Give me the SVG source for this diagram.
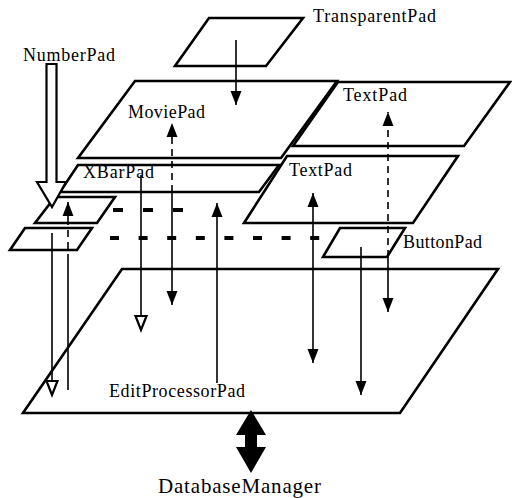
<svg xmlns="http://www.w3.org/2000/svg" width="512" height="498" viewBox="0 0 512 498">
  <style>
    .pad { fill: none; stroke: #000; stroke-width: 2.6; stroke-linejoin: miter; }
    .link { fill: none; stroke: #000; stroke-width: 1.6; }
    .dash { stroke-dasharray: 7 5; }
    .bus { fill: none; stroke: #000; stroke-width: 4; }
    .lbl { font-family: "Liberation Serif", "Times New Roman", serif; font-size: 18px; fill: #000; }
  </style>
  <defs>
    <marker id="head" markerUnits="userSpaceOnUse" markerWidth="16" markerHeight="12" refX="14" refY="5.5" orient="auto" overflow="visible">
      <path d="M0,0 L14,5.5 L0,11 z" fill="#000"/>
    </marker>
    <marker id="open" markerUnits="userSpaceOnUse" markerWidth="18" markerHeight="14" refX="15" refY="6" orient="auto" overflow="visible">
      <path d="M1,0.5 L15,6 L1,11.5 z" fill="#fff" stroke="#000" stroke-width="2.2"/>
    </marker>
  </defs>

  <!-- pads -->
  <g id="edit-processor-pad">
    <polygon class="pad" points="122,269 498,269 400,413 23,413"/>
    <text class="lbl" x="109" y="397" textLength="136">EditProcessorPad</text>
  </g>
  <g id="transparent-pad">
    <polygon class="pad" points="209,18 303,18 266,66 175,66"/>
    <text class="lbl" x="313" y="22" textLength="123">TransparentPad</text>
  </g>
  <g id="movie-pad">
    <polygon class="pad" points="135,81 337,81 281,158 78,158"/>
    <text class="lbl" x="128" y="118" textLength="77">MoviePad</text>
  </g>
  <g id="text-pad-top">
    <polygon class="pad" points="338,82 510,82 464,146 293,146"/>
    <text class="lbl" x="343" y="101" textLength="64">TextPad</text>
  </g>
  <g id="text-pad-mid">
    <polygon class="pad" points="287,156 458,156 413,223 244,223"/>
    <text class="lbl" x="289" y="176" textLength="63">TextPad</text>
  </g>
  <g id="xbar-pad">
    <polygon class="pad" points="78,165 279,165 259,192 60,192"/>
    <text class="lbl" x="83" y="178" textLength="71">XBarPad</text>
  </g>
  <g id="number-target-pad">
    <polygon class="pad" points="55,197 115,197 97,223 35,223"/>
  </g>
  <g id="lower-small-pad">
    <polygon class="pad" points="25,228 92,228 77,250 10,250"/>
  </g>
  <g id="button-pad">
    <polygon class="pad" points="340,228 405,228 387,257 323,257"/>
    <text class="lbl" x="403" y="248" textLength="79">ButtonPad</text>
  </g>
  <g id="number-pad">
    <polygon points="46.5,64 56.5,64 56.5,182 66,182 52,207 37,182 46.5,182" fill="#fff" stroke="#000" stroke-width="2.2"/>
    <text class="lbl" x="23" y="61" textLength="92">NumberPad</text>
  </g>
  <g id="database-manager">
    <polygon points="251,410 266,435 257,435 257,447 266,447 251,473 236,447 245,447 245,435 236,435" fill="#000"/>
    <text class="lbl" x="158" y="493" font-size="21" style="font-size:21px" textLength="163">DatabaseManager</text>
  </g>

  <!-- connectors -->
  <g id="connectors">
    <!-- broken bus lines -->
    <line class="bus" x1="113" y1="210" x2="184" y2="210" stroke-dasharray="10 20"/>
    <line class="bus" x1="110" y1="238" x2="320" y2="238" stroke-dasharray="9 19.6"/>

    <line class="link" x1="236" y1="40" x2="236" y2="105" marker-end="url(#head)"/>

    <line class="link dash" x1="172" y1="192" x2="172" y2="123" marker-end="url(#head)"/>
    <line class="link" x1="172" y1="192" x2="172" y2="305" marker-end="url(#head)"/>

    <line class="link" x1="141" y1="175" x2="141" y2="330" marker-end="url(#open)"/>

    <line class="link" x1="217" y1="383" x2="217" y2="203" marker-end="url(#head)"/>

    <line class="link" x1="313" y1="280" x2="313" y2="193" marker-end="url(#head)"/>
    <line class="link" x1="313" y1="280" x2="313" y2="363" marker-end="url(#head)"/>

    <line class="link dash" x1="388" y1="257" x2="388" y2="112" marker-end="url(#head)"/>
    <line class="link" x1="388" y1="257" x2="388" y2="312" marker-end="url(#head)"/>

    <line class="link" x1="361" y1="247" x2="361" y2="395" marker-end="url(#head)"/>

    <line class="link" x1="68" y1="218" x2="68" y2="202" marker-end="url(#head)"/>
    <line class="link dash" x1="68" y1="218" x2="68" y2="258"/>
    <line class="link" x1="68" y1="258" x2="68" y2="390"/>

    <line class="link" x1="52" y1="233" x2="52" y2="395" marker-end="url(#open)"/>
  </g>
</svg>
